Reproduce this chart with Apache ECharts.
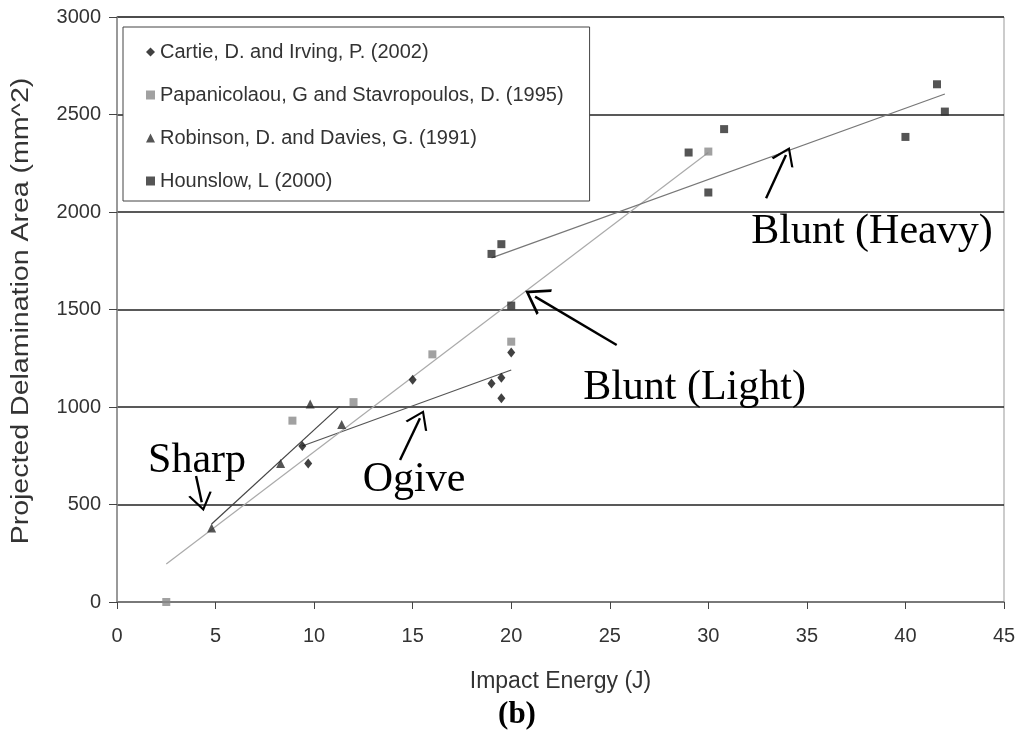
<!DOCTYPE html>
<html>
<head>
<meta charset="utf-8">
<script src="https://cdn.jsdelivr.net/npm/echarts@6/dist/echarts.min.js"></script>
<style>html,body{margin:0;padding:0;background:#fff}#c{width:1024px;height:753px}</style>
</head>
<body>
<div id="c"></div>
<script>
// ---- data ----
var seriesNames = ['Cartie, D. and Irving, P. (2002)', 'Papanicolaou, G and Stavropoulos, D. (1995)', 'Robinson, D. and Davies, G. (1991)', 'Hounslow, L (2000)'];
var cartieX = [9.4, 9.7, 15, 19, 19.5, 19.5, 20];
var cartieY = [800, 710, 1140, 1120, 1150, 1045, 1280];
var papX = [2.5, 8.9, 12, 16, 20, 30];
var papY = [0, 930, 1025, 1270, 1335, 2310];
var robX = [4.8, 8.3, 9.8, 11.4];
var robY = [380, 710, 1015, 910];
var houX = [19, 19.5, 20, 29, 30, 30.8, 40, 41.6, 42];
var houY = [1785, 1835, 1520, 2305, 2100, 2425, 2385, 2655, 2515];
// trend lines (end points)
var sharpLineX = [4.8, 11.3];  var sharpLineY = [400, 1003];
var ogiveLineX = [9.4, 20];    var ogiveLineY = [800, 1190];
var lightLineX = [2.5, 30];    var lightLineY = [195, 2305];
var heavyLineX = [19, 42];     var heavyLineY = [1765, 2605];
// annotations
var noteText = ['Sharp', 'Ogive', 'Blunt (Light)', 'Blunt (Heavy)'];
var noteX = [4.06, 15.07, 29.3, 38.3];
var noteY = [725, 626, 1100, 1900];
// arrows: tail -> tip
var arrowTailX = [4.01, 14.36, 25.35, 32.93];
var arrowTailY = [646, 728, 1318, 2070];
var arrowTipX = [4.30, 15.37, 21.21, 33.94];
var arrowTipY = [511, 942, 1566, 2292];
var xTicks = {min: 0, max: 45, interval: 5};
var yTicks = {min: 0, max: 3000, interval: 500};
var xName = 'Impact Energy (J)';
var yName = 'Projected Delamination Area (mm^2)';
var caption = '(b)';

function pairs(xs, ys) { return xs.map(function (x, i) { return [x, ys[i]]; }); }

var chevron = 'path://M10,0L20,15L18.2,15.6L10,3.2L1.8,15.6L0,15Z';

var chart = echarts.init(document.getElementById('c'), null, {renderer: 'canvas'});
var sans = 'Liberation Sans, Arial, sans-serif';
var serif = 'Liberation Serif, Times New Roman, serif';

function trend(xs, ys, color) {
  return {type: 'line', data: pairs(xs, ys), symbol: 'none', silent: true, z: 2,
    lineStyle: {color: color, width: 1.2}, animation: false};
}

var option = {
  animation: false,
  title: {text: caption, left: 512, top: 694, textAlign: 'center',
    textStyle: {fontFamily: serif, fontWeight: 'bold', fontSize: 31, color: '#000'}},
  grid: {left: 117, right: 20, top: 17, bottom: 151, show: true, borderColor: '#999', borderWidth: 1, backgroundColor: '#fff'},
  graphic: [{
    type: 'text', x: 22, y: 311, rotation: Math.PI / 2, scaleX: 1.24, silent: true,
    style: {text: yName, fill: '#333', font: '23px Liberation Sans, Arial, sans-serif', align: 'center', verticalAlign: 'middle'}
  }],
  legend: {
    data: seriesNames, orient: 'vertical', left: 123, top: 27,
    padding: [15, 26, 10, 23], itemGap: 23, itemWidth: 9, itemHeight: 9,
    backgroundColor: '#fff', borderColor: '#444', borderWidth: 1,
    textStyle: {fontFamily: sans, fontSize: 20, color: '#333'}, z: 10
  },
  xAxis: {
    type: 'value', min: xTicks.min, max: xTicks.max, interval: xTicks.interval,
    name: xName, nameLocation: 'middle', nameGap: 68,
    nameTextStyle: {fontFamily: sans, fontSize: 23, color: '#333'},
    axisLine: {show: true, lineStyle: {color: '#888', width: 1.5}},
    axisTick: {show: true, length: 7, lineStyle: {color: '#444'}},
    axisLabel: {fontFamily: sans, fontSize: 20, color: '#333', margin: 24},
    splitLine: {show: false}
  },
  yAxis: {
    type: 'value', min: yTicks.min, max: yTicks.max, interval: yTicks.interval,
    axisLine: {show: true, lineStyle: {color: '#888', width: 1.5}},
    axisTick: {show: true, length: 8, lineStyle: {color: '#444'}},
    axisLabel: {fontFamily: sans, fontSize: 20, color: '#333', margin: 16,
      formatter: function (v) { return String(v); }},
    splitLine: {show: true, lineStyle: {color: '#222', width: 1.5}}
  },
  series: [
    trend(sharpLineX, sharpLineY, '#444'),
    trend(ogiveLineX, ogiveLineY, '#555'),
    trend(lightLineX, lightLineY, '#aaa'),
    trend(heavyLineX, heavyLineY, '#777'),
    {name: seriesNames[0], type: 'scatter', data: pairs(cartieX, cartieY), symbol: 'diamond', symbolSize: [8, 10], itemStyle: {color: '#111'}, z: 5},
    {name: seriesNames[1], type: 'scatter', data: pairs(papX, papY), symbol: 'rect', symbolSize: 8, itemStyle: {color: '#8a8a8a'}, z: 4},
    {name: seriesNames[2], type: 'scatter', data: pairs(robX, robY), symbol: 'triangle', symbolSize: 9, itemStyle: {color: '#2a2a2a'}, z: 5},
    {name: seriesNames[3], type: 'scatter', data: pairs(houX, houY), symbol: 'rect', symbolSize: 8, itemStyle: {color: '#2a2a2a'}, z: 5},
    {
      type: 'scatter', data: [], silent: true, z: 6,
      markPoint: {
        symbol: 'circle', symbolSize: 0, silent: true,
        label: {show: true, position: 'inside', fontFamily: serif, fontSize: 42, color: '#000',
          formatter: function (p) { return p.name; }},
        data: noteText.map(function (t, i) { return {name: t, coord: [noteX[i], noteY[i]]}; })
      },
      markLine: {
        silent: true, symbol: ['none', chevron], symbolSize: [22, 18],
        lineStyle: {color: '#000', width: 2.4, type: 'solid'}, label: {show: false},
        data: arrowTailX.map(function (x, i) {
          return [{coord: [x, arrowTailY[i]]}, {coord: [arrowTipX[i], arrowTipY[i]], symbolSize: i === 2 ? [30, 23] : [24, 18]}];
        })
      }
    }
  ]
};
chart.setOption(option);
</script>
</body>
</html>
